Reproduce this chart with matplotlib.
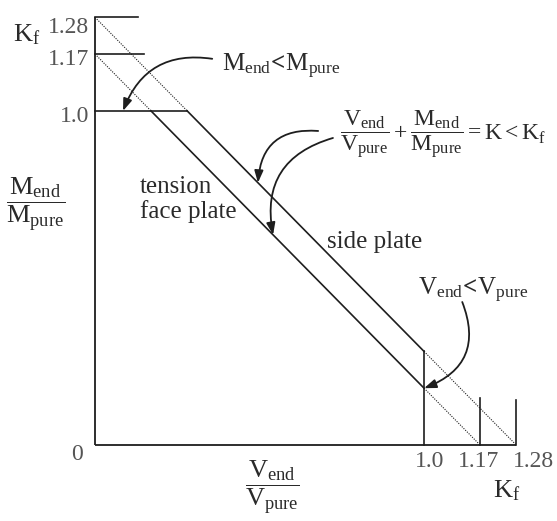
import matplotlib.pyplot as plt

plt.rcParams['font.family'] = ['Liberation Serif', 'DejaVu Serif']
plt.rcParams['mathtext.fontset'] = 'custom'
plt.rcParams['mathtext.rm'] = 'Liberation Serif'
plt.rcParams['mathtext.it'] = 'Liberation Serif:italic'
plt.rcParams['mathtext.bf'] = 'Liberation Serif:bold'

# interaction limits V/Vp + M/Mp = K
k_unit = 1.0
k_face = 1.17   # tension face plate
k_side = 1.28   # side plate

y_ticks = [1.28, 1.17, 1.0]
y_tick_labels = ['1.28', '1.17', '1.0']
y_stub = [0.13, 0.15, 0.28]
x_ticks = [1.0, 1.17, 1.28]
x_tick_labels = ['1.0', '1.17', '1.28']
x_stub = [0.28, 0.14, 0.135]

ink = '#1e1e1e'
txt = '#2a2a2a'
grey = '#555555'

fig = plt.figure(figsize=(5.57, 5.21), dpi=100)
ax = fig.add_axes([0, 0, 1, 1])
ax.set_xlim(-0.289, 1.404)
ax.set_ylim(-0.2275, 1.332)
ax.axis('off')

# axes
ax.plot([0, 0], [0, k_side], color=ink, lw=1.3, solid_capstyle='butt')
ax.plot([0, k_side], [0, 0], color=ink, lw=1.3, solid_capstyle='butt')

# short marks at the limits
for y, s in zip(y_ticks, y_stub):
    ax.plot([0, s], [y, y], color=ink, lw=1.2)
for x, s in zip(x_ticks, x_stub):
    ax.plot([x, x], [0, s], color=ink, lw=1.2)

# limit lines: solid inside the unit box, dotted outside it
for k in (k_face, k_side):
    e = k - k_unit
    ax.plot([e, k_unit], [k_unit, e], color=ink, lw=1.2)
    ax.plot([0, e], [k, k_unit], color=ink, lw=0.8, ls=(0, (1, 1.2)))
    ax.plot([k_unit, k], [e, 0], color=ink, lw=0.8, ls=(0, (1, 1.2)))

# tick labels
for y, lab, yb in zip(y_ticks, y_tick_labels, [1.234, 1.138, 0.967]):
    ax.text(-0.018, yb, lab, ha='right', va='baseline', fontsize=17, color=grey)
ax.text(-0.055, -0.045, '0', ha='center', va='baseline', fontsize=17, color=grey)
ax.text(1.018, -0.066, x_tick_labels[0], ha='center', va='baseline', fontsize=17, color=grey)
ax.text(1.167, -0.066, x_tick_labels[1], ha='center', va='baseline', fontsize=17, color=grey)
ax.text(1.271, -0.066, x_tick_labels[2], ha='left', va='baseline', fontsize=17, color=grey)

ax.text(-0.249, 1.207, r'$\mathrm{K_f}$', ha='left', va='baseline', fontsize=19, color=txt)
ax.text(1.21, -0.156, r'$\mathrm{K_f}$', ha='left', va='baseline', fontsize=19, color=txt)

# axis quantities
ax.text(-0.182, 0.722, r'$\dfrac{\mathrm{M_{end}}}{\mathrm{M_{pure}}}$', ha='center', va='center',
        fontsize=19, color=txt)
ax.text(0.540, -0.125, r'$\dfrac{\mathrm{V_{end}}}{\mathrm{V_{pure}}}$', ha='center', va='center',
        fontsize=19, color=txt)

# line names
ax.text(0.137, 0.754, 'tension', ha='left', va='baseline', fontsize=18, color=txt)
ax.text(0.137, 0.680, 'face plate', ha='left', va='baseline', fontsize=18, color=txt)
ax.text(0.705, 0.590, 'side plate', ha='left', va='baseline', fontsize=18, color=txt)

# callouts
ax.text(0.386, 1.117, r'$\mathrm{M_{end}}\!\mathbf{<}\!\mathrm{M_{pure}}$', ha='left', va='baseline',
        fontsize=18, color=txt)
ax.text(0.745, 0.93,
        r'$\dfrac{\mathrm{V_{end}}}{\mathrm{V_{pure}}}+\dfrac{\mathrm{M_{end}}}{\mathrm{M_{pure}}}=\mathrm{K}<\mathrm{K_f}$',
        ha='left', va='center', fontsize=17, color=txt)
ax.text(0.982, 0.449, r'$\mathrm{V_{end}}\!\mathbf{<}\!\mathrm{V_{pure}}$', ha='left', va='baseline',
        fontsize=18, color=txt)

arrow = dict(arrowstyle='-|>,head_length=0.6,head_width=0.22', color=ink, lw=1.3,
             shrinkA=0, shrinkB=0, mutation_scale=12)

ax.annotate('', xy=(0.085, k_unit), xytext=(0.356, 1.156),
            arrowprops=dict(arrow, connectionstyle='arc3,rad=0.4'))
ax.annotate('', xy=(0.495, k_side - 0.495), xytext=(0.678, 0.940),
            arrowprops=dict(arrow, connectionstyle='arc3,rad=0.5'))
ax.annotate('', xy=(0.541, k_face - 0.541), xytext=(0.723, 0.919),
            arrowprops=dict(arrow, connectionstyle='arc3,rad=0.45'))
ax.annotate('', xy=(k_unit, k_face - k_unit), xytext=(1.116, 0.428),
            arrowprops=dict(arrow, connectionstyle='arc3,rad=-0.5'))

fig.savefig('out.png', dpi=100, facecolor='white')
